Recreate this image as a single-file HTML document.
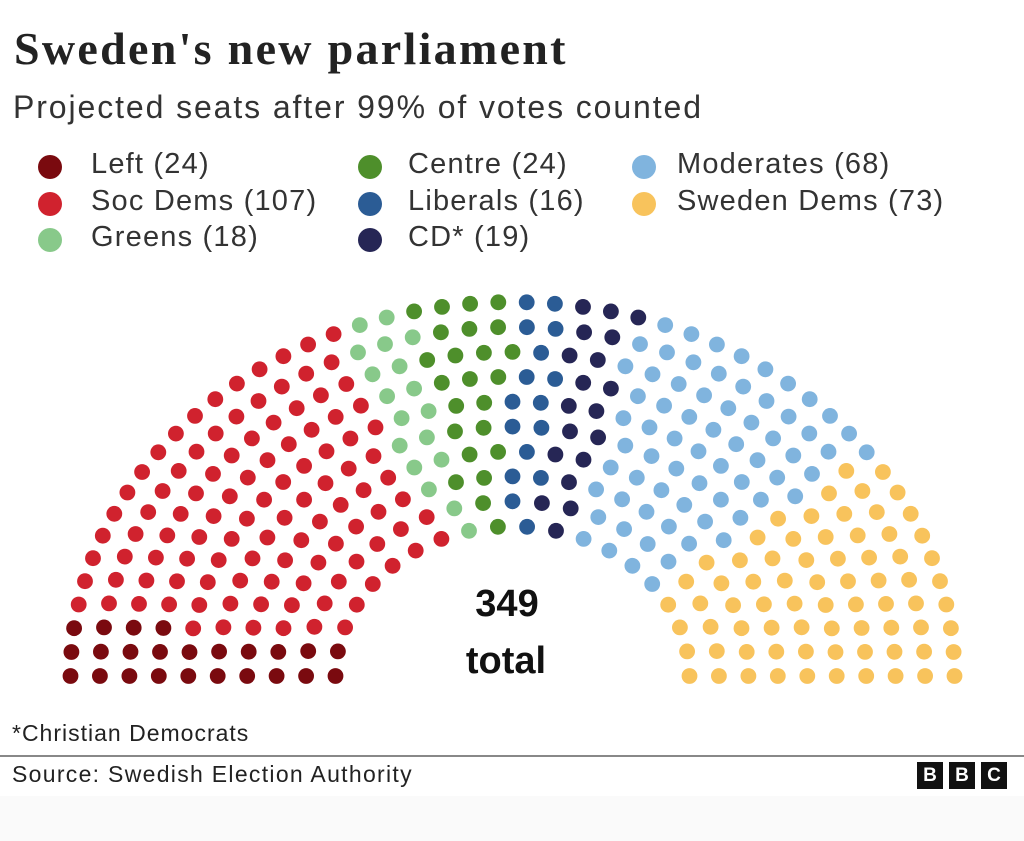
<!DOCTYPE html>
<html><head><meta charset="utf-8">
<style>
body{margin:0;width:1024px;height:841px;background:#fff;position:relative;overflow:hidden;font-family:"Liberation Sans",sans-serif;color:#222}
.t{position:absolute;white-space:nowrap}
.h1{left:14px;top:22px;font-family:"Liberation Serif",serif;font-weight:bold;font-size:46px;letter-spacing:2.3px;color:#222}
.sub{left:13px;top:89px;font-size:32px;letter-spacing:1.9px;color:#333}
.lg{font-size:29px;letter-spacing:1.2px;color:#333}
.dot{position:absolute;width:24px;height:24px;border-radius:50%}
</style></head><body>
<div class="t h1">Sweden's new parliament</div>
<div class="t sub">Projected seats after 99% of votes counted</div>

<div class="dot" style="left:38px;top:155px;background:#7a0a0f"></div><div class="t lg" style="left:91px;top:148px">Left (24)</div>
<div class="dot" style="left:38px;top:192px;background:#d0222e"></div><div class="t lg" style="left:91px;top:185px">Soc Dems (107)</div>
<div class="dot" style="left:38px;top:228px;background:#88c98a"></div><div class="t lg" style="left:91px;top:221px">Greens (18)</div>
<div class="dot" style="left:358px;top:155px;background:#4e8f2b"></div><div class="t lg" style="left:408px;top:148px">Centre (24)</div>
<div class="dot" style="left:358px;top:192px;background:#2b5c95"></div><div class="t lg" style="left:408px;top:185px">Liberals (16)</div>
<div class="dot" style="left:358px;top:228px;background:#262655"></div><div class="t lg" style="left:408px;top:221px">CD* (19)</div>
<div class="dot" style="left:632px;top:155px;background:#80b4de"></div><div class="t lg" style="left:677px;top:148px">Moderates (68)</div>
<div class="dot" style="left:632px;top:192px;background:#f8c35c"></div><div class="t lg" style="left:677px;top:185px">Sweden Dems (73)</div>

<svg id="p" width="1024" height="841" style="position:absolute;left:0;top:0"></svg>

<div class="t" style="left:0;width:1014px;text-align:center;top:583px;font-weight:bold;font-size:38px;color:#111">349</div>
<div class="t" style="left:0;width:1012px;text-align:center;top:640px;font-weight:bold;font-size:38px;color:#111">total</div>

<div class="t" style="left:12px;top:720px;font-size:23px;letter-spacing:1px;color:#222">*Christian Democrats</div>
<div style="position:absolute;left:0;top:755px;width:1024px;height:2px;background:#888"></div>
<div class="t" style="left:12px;top:761px;font-size:23px;letter-spacing:1.3px;color:#222">Source: Swedish Election Authority</div>
<div style="position:absolute;left:917px;top:762px;display:flex;gap:6px">
<div style="width:26px;height:27px;background:#111;color:#fff;font-weight:bold;font-size:19px;text-align:center;line-height:27px">B</div>
<div style="width:26px;height:27px;background:#111;color:#fff;font-weight:bold;font-size:19px;text-align:center;line-height:27px">B</div>
<div style="width:26px;height:27px;background:#111;color:#fff;font-weight:bold;font-size:19px;text-align:center;line-height:27px">C</div>
</div>
<div style="position:absolute;left:0;top:796px;width:1024px;height:45px;background:#fafafa"></div>

<script>
(function(){
var cx=512.5,cy=676,r0=177,r1=442,rings=10,total=349,sy=0.846;
var radii=[],sum=0;
for(var i=0;i<rings;i++){var r=r0+(r1-r0)*i/(rings-1);radii.push(r);sum+=r;}
var counts=[],rem=[],acc=0;
for(var i=0;i<rings;i++){var e=total*radii[i]/sum;counts.push(Math.floor(e));acc+=Math.floor(e);rem.push([e-Math.floor(e),i]);}
rem.sort(function(a,b){return b[0]-a[0];});
for(var k=0;k<total-acc;k++)counts[rem[k][1]]++;
var seats=[];
for(var i=0;i<rings;i++){var n=counts[i];for(var j=0;j<n;j++){var a=Math.PI*(1-j/(n-1));seats.push({a:a,r:radii[i]});}}
seats.sort(function(p,q){if(Math.abs(p.a-q.a)>1e-9)return q.a-p.a;return q.r-p.r;});
var parties=[[24,"#7a0a0f"],[107,"#d0222e"],[18,"#88c98a"],[24,"#4e8f2b"],[16,"#2b5c95"],[19,"#262655"],[68,"#80b4de"],[73,"#f8c35c"]];
var cols=[];parties.forEach(function(p){for(var k=0;k<p[0];k++)cols.push(p[1]);});
var s="";
seats.forEach(function(p,idx){var x=cx+p.r*Math.cos(p.a),y=cy-p.r*sy*Math.sin(p.a);
s+='<circle cx="'+x.toFixed(1)+'" cy="'+y.toFixed(1)+'" r="7.9" fill="'+cols[idx]+'"/>';});
document.getElementById("p").innerHTML=s;
})();
</script>
</body></html>
